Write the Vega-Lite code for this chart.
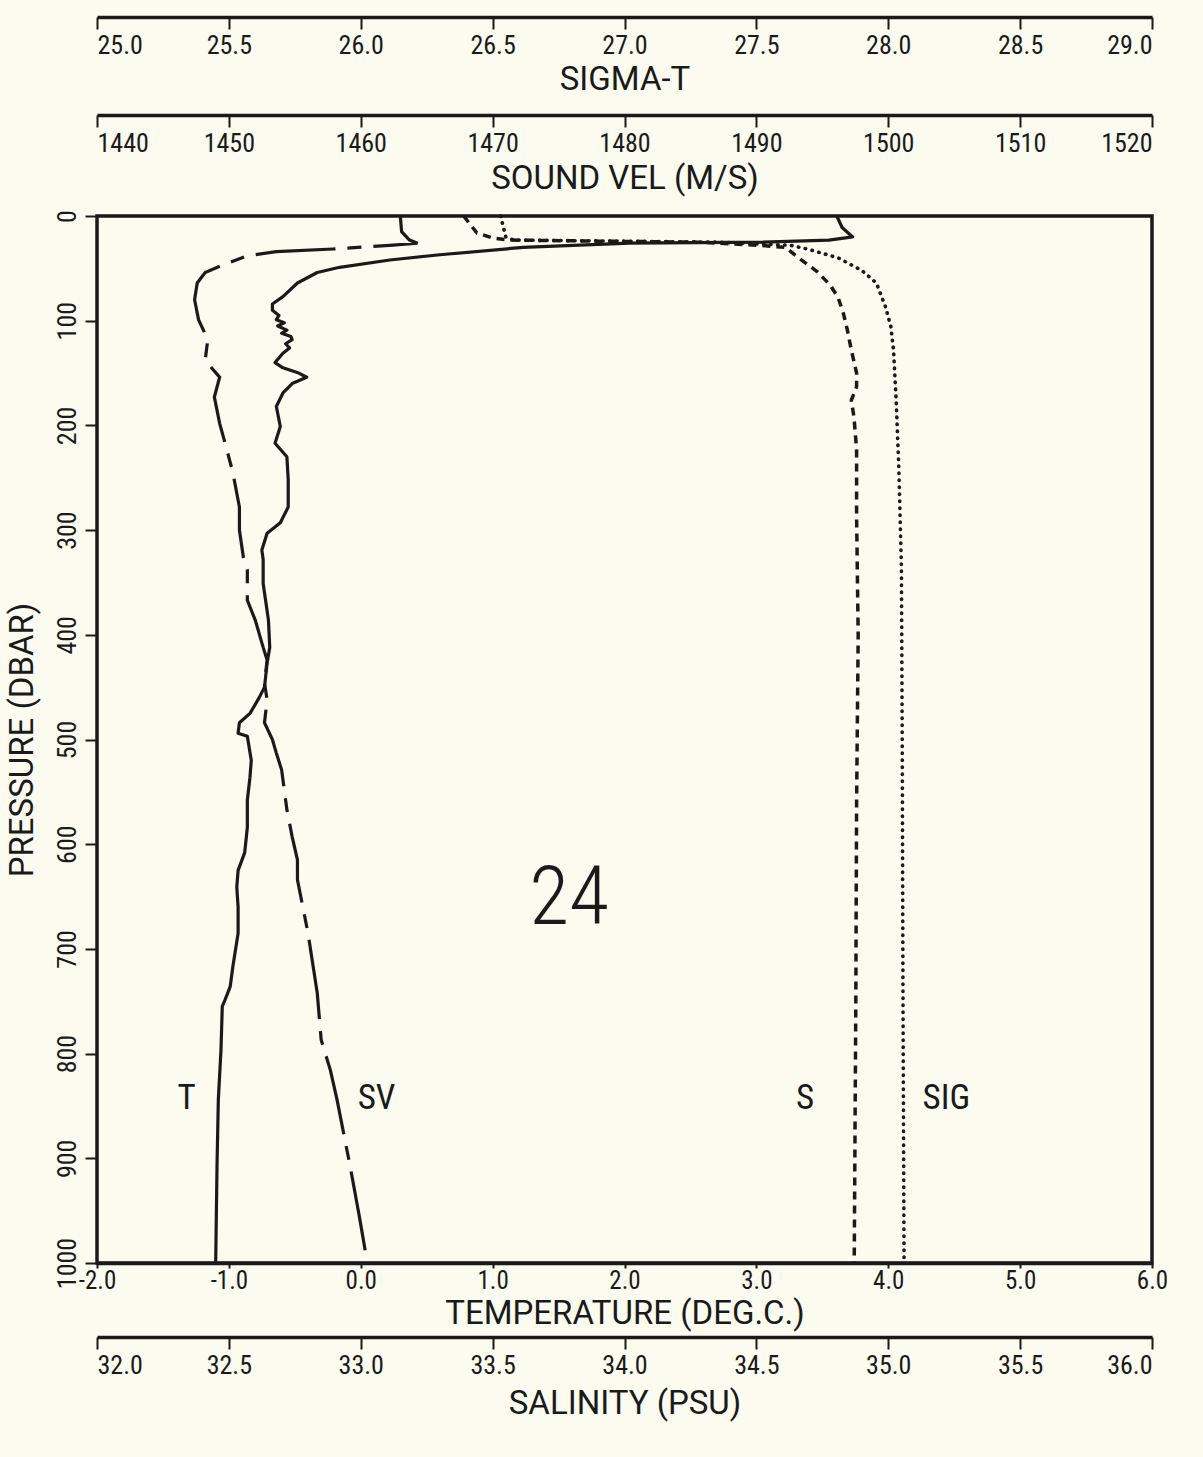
{
  "$schema": "https://vega.github.io/schema/vega-lite/v6.json",
  "width": 1055,
  "height": 1047,
  "autosize": {"type": "none"},
  "padding": {"left": 97, "top": 216, "right": 51, "bottom": 194},
  "background": "#fbfbef",
  "datasets": {
    "temp": [
      {"p": 0, "v": 3.61}, {"p": 11, "v": 3.65}, {"p": 20, "v": 3.73}, {"p": 23, "v": 3.55},
      {"p": 25, "v": 3.05}, {"p": 26, "v": 2.04}, {"p": 30, "v": 1.23}, {"p": 37, "v": 0.60},
      {"p": 42, "v": 0.22}, {"p": 49, "v": -0.16}, {"p": 54, "v": -0.33}, {"p": 64, "v": -0.48},
      {"p": 77, "v": -0.59}, {"p": 84, "v": -0.67}, {"p": 90, "v": -0.67}, {"p": 95, "v": -0.62},
      {"p": 99, "v": -0.64}, {"p": 102, "v": -0.58}, {"p": 105, "v": -0.63}, {"p": 109, "v": -0.56},
      {"p": 112, "v": -0.6}, {"p": 115, "v": -0.53}, {"p": 118, "v": -0.52}, {"p": 122, "v": -0.57},
      {"p": 126, "v": -0.54}, {"p": 131, "v": -0.59}, {"p": 140, "v": -0.65}, {"p": 145, "v": -0.59},
      {"p": 150, "v": -0.47}, {"p": 154, "v": -0.41}, {"p": 160, "v": -0.52}, {"p": 169, "v": -0.59},
      {"p": 182, "v": -0.64}, {"p": 201, "v": -0.61}, {"p": 217, "v": -0.65}, {"p": 230, "v": -0.56},
      {"p": 252, "v": -0.55}, {"p": 278, "v": -0.55}, {"p": 293, "v": -0.61}, {"p": 303, "v": -0.71},
      {"p": 319, "v": -0.75}, {"p": 328, "v": -0.74}, {"p": 351, "v": -0.74}, {"p": 386, "v": -0.70},
      {"p": 412, "v": -0.69}, {"p": 427, "v": -0.71}, {"p": 450, "v": -0.73}, {"p": 460, "v": -0.77},
      {"p": 475, "v": -0.84}, {"p": 484, "v": -0.92}, {"p": 494, "v": -0.93}, {"p": 497, "v": -0.86},
      {"p": 520, "v": -0.83}, {"p": 536, "v": -0.84}, {"p": 558, "v": -0.86}, {"p": 584, "v": -0.86},
      {"p": 608, "v": -0.88}, {"p": 625, "v": -0.93}, {"p": 641, "v": -0.94}, {"p": 660, "v": -0.93},
      {"p": 685, "v": -0.93}, {"p": 717, "v": -0.97}, {"p": 736, "v": -0.99}, {"p": 749, "v": -1.03},
      {"p": 755, "v": -1.05}, {"p": 797, "v": -1.06}, {"p": 844, "v": -1.08}, {"p": 908, "v": -1.09},
      {"p": 1000, "v": -1.10}
    ],
    "sv": [
      {"p": 0, "v": 1463.0}, {"p": 15, "v": 1463.1}, {"p": 23, "v": 1463.7}, {"p": 26, "v": 1464.3},
      {"p": 28, "v": 1462.2}, {"p": 31.5, "v": 1457.9}, {"p": 34, "v": 1453.6}, {"p": 38, "v": 1451.4},
      {"p": 47, "v": 1449.5}, {"p": 54, "v": 1448.2}, {"p": 64, "v": 1447.6}, {"p": 80, "v": 1447.4},
      {"p": 99, "v": 1447.7}, {"p": 118, "v": 1448.4}, {"p": 138, "v": 1448.2}, {"p": 154, "v": 1449.3},
      {"p": 173, "v": 1448.9}, {"p": 198, "v": 1449.3}, {"p": 221, "v": 1449.8}, {"p": 245, "v": 1450.3},
      {"p": 278, "v": 1450.8}, {"p": 300, "v": 1450.8}, {"p": 326, "v": 1451.1}, {"p": 338, "v": 1451.4},
      {"p": 367, "v": 1451.4}, {"p": 386, "v": 1452.0}, {"p": 412, "v": 1452.6}, {"p": 424, "v": 1452.9},
      {"p": 446, "v": 1452.7}, {"p": 462, "v": 1452.9}, {"p": 484, "v": 1452.7}, {"p": 500, "v": 1453.3},
      {"p": 513, "v": 1453.6}, {"p": 529, "v": 1454.0}, {"p": 567, "v": 1454.4}, {"p": 593, "v": 1454.8},
      {"p": 615, "v": 1455.2}, {"p": 634, "v": 1455.2}, {"p": 653, "v": 1455.5}, {"p": 685, "v": 1456.0},
      {"p": 742, "v": 1456.7}, {"p": 787, "v": 1457.0}, {"p": 816, "v": 1457.7}, {"p": 844, "v": 1458.2},
      {"p": 908, "v": 1459.2}, {"p": 956, "v": 1459.9}, {"p": 1000, "v": 1460.5}
    ],
    "sal": [
      {"p": 0, "v": 33.39}, {"p": 16, "v": 33.44}, {"p": 21, "v": 33.50}, {"p": 23, "v": 33.56},
      {"p": 24, "v": 33.90}, {"p": 25, "v": 34.28}, {"p": 28, "v": 34.51}, {"p": 30, "v": 34.61},
      {"p": 40, "v": 34.66}, {"p": 53, "v": 34.73}, {"p": 66, "v": 34.78}, {"p": 78, "v": 34.81},
      {"p": 93, "v": 34.83}, {"p": 109, "v": 34.845}, {"p": 128, "v": 34.86}, {"p": 150, "v": 34.88},
      {"p": 163, "v": 34.88}, {"p": 176, "v": 34.86}, {"p": 192, "v": 34.87}, {"p": 223, "v": 34.88},
      {"p": 287, "v": 34.88}, {"p": 400, "v": 34.886}, {"p": 560, "v": 34.88}, {"p": 750, "v": 34.877},
      {"p": 1000, "v": 34.871}
    ],
    "sig": [
      {"p": 0, "v": 26.53}, {"p": 20, "v": 26.55}, {"p": 23, "v": 26.58}, {"p": 24, "v": 26.98},
      {"p": 25, "v": 27.36}, {"p": 28, "v": 27.63}, {"p": 32, "v": 27.70}, {"p": 40, "v": 27.81},
      {"p": 52, "v": 27.90}, {"p": 64, "v": 27.955}, {"p": 87, "v": 27.99}, {"p": 106, "v": 28.01},
      {"p": 128, "v": 28.02}, {"p": 176, "v": 28.03}, {"p": 240, "v": 28.04}, {"p": 336, "v": 28.05},
      {"p": 500, "v": 28.053}, {"p": 750, "v": 28.056}, {"p": 1000, "v": 28.06}
    ]
  },
  "encoding": {
    "y": {
      "field": "p", "type": "quantitative",
      "scale": {"domain": [0, 1000], "reverse": true, "nice": false, "zero": false},
      "axis": {
        "title": "PRESSURE (DBAR)", "values": [0, 100, 200, 300, 400, 500, 600, 700, 800, 900, 1000],
        "format": "d", "labelAngle": 270, "tickSize": 12, "labelPadding": 5, "titlePadding": 15,
        "labelFlush": true, "domain": false
      }
    }
  },
  "layer": [
    {
      "data": {"name": "temp"},
      "mark": {"type": "line", "color": "#1a1a1a", "strokeWidth": 3.2, "strokeJoin": "round"},
      "encoding": {
        "x": {"field": "v", "type": "quantitative",
          "scale": {"domain": [-2, 6], "nice": false, "zero": false},
          "axis": {"orient": "bottom", "offset": 0, "title": "TEMPERATURE (DEG.C.)",
            "values": [-2, -1, 0, 1, 2, 3, 4, 5, 6],
            "labelExpr": "(datum.value < 0 ? '-' : '') + format(abs(datum.value), '.1f')",
            "tickSize": 5, "labelPadding": 0, "labelFontSize": 25, "titlePadding": 4, "labelFlush": false}},
        "order": {"field": "p", "type": "quantitative"}
      }
    },
    {
      "data": {"name": "sal"},
      "mark": {"type": "line", "color": "#1a1a1a", "strokeWidth": 3.5, "strokeDash": [8, 6]},
      "encoding": {
        "x": {"field": "v", "type": "quantitative",
          "scale": {"domain": [32, 36], "nice": false, "zero": false},
          "axis": {"orient": "bottom", "offset": 74, "title": "SALINITY (PSU)",
            "values": [32, 32.5, 33, 33.5, 34, 34.5, 35, 35.5, 36], "format": ".1f",
            "tickSize": 12, "labelPadding": 3, "titlePadding": 9, "labelFlush": true}},
        "order": {"field": "p", "type": "quantitative"}
      }
    },
    {
      "data": {"name": "sv"},
      "mark": {"type": "line", "color": "#1a1a1a", "strokeWidth": 3.2, "strokeDash": [80, 12, 14, 12]},
      "encoding": {
        "x": {"field": "v", "type": "quantitative",
          "scale": {"domain": [1440, 1520], "nice": false, "zero": false},
          "axis": {"orient": "bottom", "offset": -1148, "title": "SOUND VEL (M/S)",
            "values": [1440, 1450, 1460, 1470, 1480, 1490, 1500, 1510, 1520], "format": "d",
            "tickSize": 12, "labelPadding": 3, "titlePadding": 6, "labelFlush": true}},
        "order": {"field": "p", "type": "quantitative"}
      }
    },
    {
      "data": {"name": "sig"},
      "mark": {"type": "line", "color": "#1a1a1a", "strokeWidth": 3.6, "strokeDash": [0.5, 6.5], "strokeCap": "round"},
      "encoding": {
        "x": {"field": "v", "type": "quantitative",
          "scale": {"domain": [25, 29], "nice": false, "zero": false},
          "axis": {"orient": "bottom", "offset": -1246, "title": "SIGMA-T",
            "values": [25, 25.5, 26, 26.5, 27, 27.5, 28, 28.5, 29], "format": ".1f",
            "tickSize": 12, "labelPadding": 3, "titlePadding": 5, "labelFlush": true}},
        "order": {"field": "p", "type": "quantitative"}
      }
    },
    {
      "data": {"values": [{"p": 842, "v": -1.32, "label": "T"}]},
      "mark": {"type": "text", "color": "#1a1a1a", "align": "center", "baseline": "middle", "fontSize": 35},
      "encoding": {
        "x": {"field": "v", "type": "quantitative", "scale": {"domain": [-2, 6], "nice": false, "zero": false}, "axis": null},
        "text": {"field": "label"}
      }
    },
    {
      "data": {"values": [{"p": 652, "v": 1.58, "label": "24"}]},
      "mark": {"type": "text", "color": "#1a1a1a", "align": "center", "baseline": "middle", "fontSize": 82, "fontWeight": 300},
      "encoding": {
        "x": {"field": "v", "type": "quantitative", "scale": {"domain": [-2, 6], "nice": false, "zero": false}, "axis": null},
        "text": {"field": "label"}
      }
    },
    {
      "data": {"values": [{"p": 842, "v": 1461.2, "label": "SV"}]},
      "mark": {"type": "text", "color": "#1a1a1a", "align": "center", "baseline": "middle", "fontSize": 35},
      "encoding": {
        "x": {"field": "v", "type": "quantitative", "scale": {"domain": [1440, 1520], "nice": false, "zero": false}, "axis": null},
        "text": {"field": "label"}
      }
    },
    {
      "data": {"values": [{"p": 842, "v": 34.685, "label": "S"}]},
      "mark": {"type": "text", "color": "#1a1a1a", "align": "center", "baseline": "middle", "fontSize": 35},
      "encoding": {
        "x": {"field": "v", "type": "quantitative", "scale": {"domain": [32, 36], "nice": false, "zero": false}, "axis": null},
        "text": {"field": "label"}
      }
    },
    {
      "data": {"values": [{"p": 842, "v": 28.22, "label": "SIG"}]},
      "mark": {"type": "text", "color": "#1a1a1a", "align": "center", "baseline": "middle", "fontSize": 35},
      "encoding": {
        "x": {"field": "v", "type": "quantitative", "scale": {"domain": [25, 29], "nice": false, "zero": false}, "axis": null},
        "text": {"field": "label"}
      }
    }
  ],
  "resolve": {"scale": {"x": "independent"}, "axis": {"x": "independent"}},
  "config": {
    "view": {"stroke": "#1a1a1a", "strokeWidth": 3.5},
    "font": "Roboto Condensed, Roboto, sans-serif",
    "text": {"font": "Roboto Condensed, Roboto, sans-serif"},
    "axis": {
      "grid": false,
      "domainColor": "#1a1a1a", "domainWidth": 3.5,
      "tickColor": "#1a1a1a", "tickWidth": 2,
      "labelColor": "#1a1a1a", "titleColor": "#1a1a1a",
      "labelFont": "Roboto Condensed, Roboto, sans-serif",
      "titleFont": "Roboto, sans-serif",
      "labelFontSize": 26, "titleFontSize": 33, "titleFontWeight": "normal",
      "labelOverlap": false
    }
  }
}
